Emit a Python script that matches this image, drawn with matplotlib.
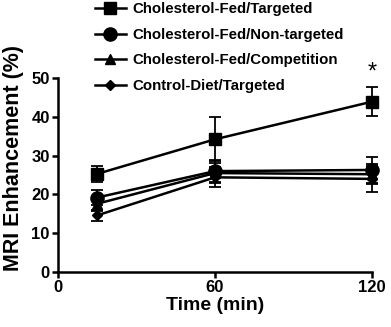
import matplotlib.pyplot as plt
from matplotlib.lines import Line2D

plt.rcParams['font.family'] = ['Liberation Sans', 'DejaVu Sans']
plt.rcParams['font.weight'] = 'bold'

# -----------------------------
# DATA
# -----------------------------
time_min = [15, 60, 120]

labels = ["Cholesterol-Fed/Targeted",
          "Cholesterol-Fed/Non-targeted",
          "Cholesterol-Fed/Competition",
          "Control-Diet/Targeted"]
markers = ["s", "o", "^", "D"]
msizes = [8.5, 9.5, 7.5, 5.5]

targeted = [25.3, 34.2, 43.9]
targeted_err = [2.0, 5.7, 3.8]

non_targeted = [19.2, 26.0, 26.3]
non_targeted_err = [1.9, 2.9, 3.4]

competition = [17.6, 25.5, 25.2]
competition_err = [1.8, 2.5, 2.6]

control = [14.6, 24.4, 24.0]
control_err = [1.5, 2.6, 3.3]

series = [targeted, non_targeted, competition, control]
errors = [targeted_err, non_targeted_err, competition_err, control_err]

# -----------------------------
# PLOT
# -----------------------------
fig = plt.figure(figsize=(3.91, 3.27), dpi=100)
ax = fig.add_axes([58 / 391, 1 - 272 / 327, 314 / 391, 194 / 327])

handles = []
for vals, err, lab, mk, ms in zip(series, errors, labels, markers, msizes):
    ax.errorbar(time_min, vals, yerr=err, color='black', lw=1.8,
                marker=mk, ms=ms, capsize=4, elinewidth=1.3,
                capthick=1.3, clip_on=False)
    handles.append(Line2D([], [], color='black', lw=1.8, marker=mk, ms=ms))

# significance mark
ax.text(120, 51.3, "*", ha='center', va='center', fontsize=17, fontweight='normal')

ax.set_xlim(0, 120)
ax.set_ylim(0, 50)
ax.set_xticks([0, 60, 120])
ax.set_yticks([0, 10, 20, 30, 40, 50])
ax.tick_params(labelsize=12, width=1.8, length=4, direction='out', pad=2)
for lab in ax.get_xticklabels() + ax.get_yticklabels():
    lab.set_fontweight('bold')

ax.spines['top'].set_visible(False)
ax.spines['right'].set_visible(False)
ax.spines['left'].set_linewidth(1.8)
ax.spines['bottom'].set_linewidth(1.8)

ax.set_xlabel("Time (min)", fontsize=14, fontweight='bold', labelpad=1)
ax.set_ylabel("MRI Enhancement (%)", fontsize=15.5, fontweight='bold')
ax.yaxis.set_label_coords(-0.108, 0.59)

leg = fig.legend(handles, labels, loc='upper left', bbox_to_anchor=(81 / 391, 1.035),
                 frameon=False, fontsize=10.8, handlelength=2.1, handletextpad=0.45,
                 labelspacing=0.78)
for t in leg.get_texts():
    t.set_fontweight('bold')

fig.savefig("out.png", dpi=100)
